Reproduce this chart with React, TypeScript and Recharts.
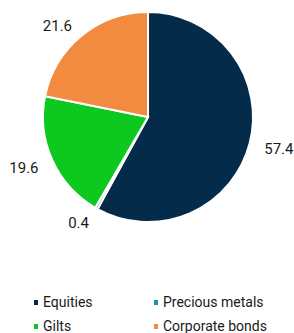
import { PieChart, Pie, Cell, Legend } from 'recharts';

const categories = ['Equities', 'Precious metals', 'Gilts', 'Corporate bonds'];
const values = [57.4, 0.4, 19.6, 21.6];
const colors = ['#042c4a', '#1a9aa8', '#0cc81f', '#f28b40'];

const data = categories.map((name, i) => ({ name, value: values[i] }));

const RADIAN = Math.PI / 180;

const renderLabel = (p: any) => {
  const r = p.outerRadius + 15;
  const x = p.cx + r * Math.cos(-p.midAngle * RADIAN);
  const y = p.cy + r * Math.sin(-p.midAngle * RADIAN) + 2;
  return (
    <text
      x={x}
      y={y}
      textAnchor={x > p.cx ? 'start' : 'end'}
      dominantBaseline="central"
      fill="#1a1a1a"
      fontSize={15}
      fontFamily="Roboto"
    >
      {p.value}
    </text>
  );
};

const renderLegend = () => (
  <div style={{ position: 'relative', width: 294, height: 44, fontFamily: 'Roboto', fontSize: 14, color: '#1a1a1a' }}>
    {data.map((d, i) => (
      <div
        key={d.name}
        style={{
          position: 'absolute',
          left: i % 2 === 0 ? 34 : 154,
          top: i < 2 ? 0 : 24,
          display: 'flex',
          alignItems: 'center',
          whiteSpace: 'nowrap',
          lineHeight: '20px',
        }}
      >
        <span style={{ display: 'inline-block', width: 4, height: 5, background: colors[i], marginRight: 5 }} />
        {d.name}
      </div>
    ))}
  </div>
);

export default function App() {
  return (
    <div style={{ position: 'absolute', left: 0, top: 0, width: 294, height: 333, background: '#fff' }}>
      <PieChart width={294} height={333} margin={{ top: 0, right: 0, bottom: 0, left: 0 }}>
        <Pie
          data={data}
          dataKey="value"
          cx={148}
          cy={117}
          outerRadius={105}
          startAngle={90}
          endAngle={-270}
          stroke="#fff"
          strokeWidth={2}
          label={renderLabel}
          labelLine={false}
          isAnimationActive={false}
        >
          {data.map((d, i) => (
            <Cell key={d.name} fill={colors[i]} />
          ))}
        </Pie>
        <Legend content={renderLegend} wrapperStyle={{ position: 'absolute', left: 0, top: 292, width: 294, height: 44 }} />
      </PieChart>
    </div>
  );
}
